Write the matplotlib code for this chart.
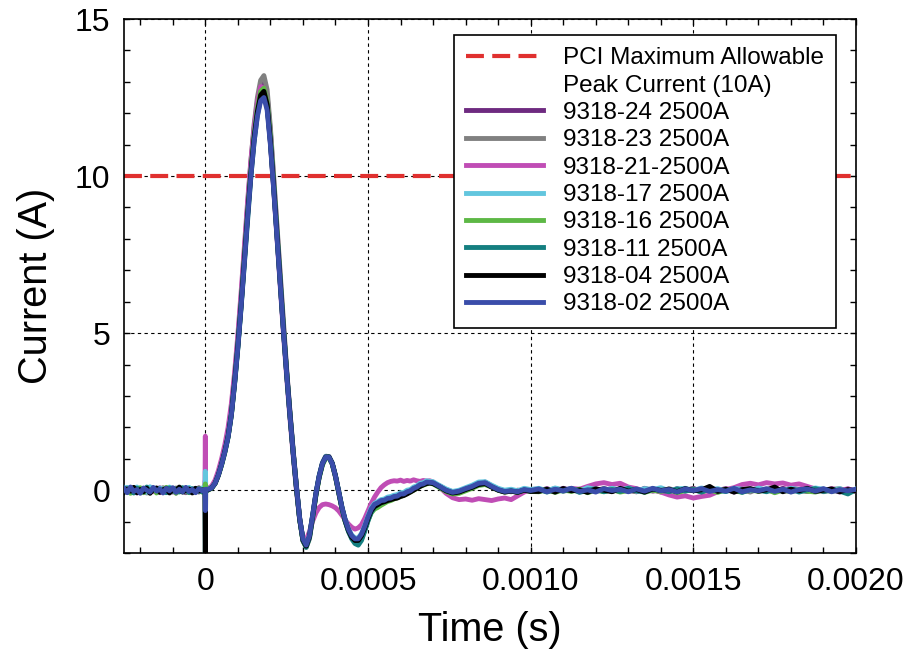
import numpy as np
import matplotlib
matplotlib.use('Agg')
import matplotlib.pyplot as plt
from matplotlib.lines import Line2D
from matplotlib.ticker import MultipleLocator, FixedLocator, FixedFormatter

plt.rcParams['font.family'] = ['Liberation Sans', 'DejaVu Sans']

# sampling grid (microseconds)
time_us = np.concatenate([np.arange(-250, 0, 10), [-1, 0, 1],
                          np.arange(10, 701, 10), np.arange(720, 1001, 20),
                          np.arange(1025, 2001, 25)])

limit_A = 10.0

cur_24 = [-0.03,0.07,-0.06,0.04,-0.09,0.05,0.01,-0.07,0.08,-0.02,0.06,-0.08,0.03,-0.04,0.09,-0.06,0.02,0.07,-0.03,-0.08,0.05,-0.02,0.06,-0.05,0.03,
          0.0,0.3,0.02,
          0.02,0.09,0.24,0.5,0.86,1.28,1.78,2.5,3.5,4.7,
          6.0,7.45,8.95,10.3,11.5,12.3,12.85,13.0,12.55,11.4,
          9.9,8.35,6.8,5.25,3.8,2.5,1.25,0.12,-0.9,-1.6,
          -1.78,-1.45,-0.8,-0.1,0.45,0.87,1.08,1.07,0.85,0.42,
          -0.08,-0.58,-0.98,-1.28,-1.5,-1.6,-1.58,-1.42,-1.18,-0.88,
          -0.62,-0.48,-0.42,-0.36,-0.3,-0.28,-0.22,-0.22,-0.16,-0.14,
          -0.1,-0.06,0.0,0.05,0.12,0.16,0.22,0.24,0.27,0.22,
          0.14,0.02,-0.05,-0.06,0.04,0.1,0.2,0.26,0.14,0.04,-0.02,-0.05,0.0,-0.03,0.02,
          -0.03,0.05,-0.04,0.06,-0.02,0.03,-0.06,0.04,-0.01,0.05,-0.04,0.02,-0.05,0.06,-0.03,0.01,-0.04,0.05,-0.02,0.06,
          -0.05,0.03,-0.01,0.05,-0.06,0.02,0.04,-0.03,0.01,-0.05,0.06,-0.02,0.03,-0.04,0.05,-0.01,0.02,-0.06,0.04,-0.03]

cur_23 = [0.04,-0.06,0.02,0.08,-0.05,-0.01,0.06,-0.09,0.03,0.05,-0.07,0.01,0.08,-0.04,-0.06,0.03,0.07,-0.02,0.04,-0.07,0.06,-0.03,0.01,-0.06,0.04,
          0.01,0.2,-0.02,
          0.03,0.1,0.25,0.52,0.88,1.3,1.8,2.55,3.55,4.75,
          6.1,7.55,9.05,10.45,11.65,12.5,13.05,13.2,12.75,11.55,
          10.0,8.4,6.85,5.3,3.85,2.5,1.28,0.15,-0.88,-1.62,
          -1.82,-1.55,-0.88,-0.15,0.42,0.84,1.05,1.06,0.84,0.44,
          -0.06,-0.56,-0.98,-1.3,-1.52,-1.65,-1.68,-1.55,-1.28,-0.95,
          -0.66,-0.5,-0.42,-0.35,-0.33,-0.27,-0.24,-0.2,-0.17,-0.13,
          -0.1,-0.07,-0.02,0.05,0.1,0.17,0.21,0.25,0.26,0.23,
          0.13,0.01,-0.06,-0.04,0.06,0.13,0.21,0.23,0.13,0.03,-0.03,-0.01,-0.04,0.03,0.0,
          0.02,-0.04,0.06,-0.03,0.01,-0.05,0.04,-0.02,0.06,-0.04,0.03,-0.01,-0.05,0.04,0.02,-0.06,0.05,-0.03,0.01,0.04,
          -0.05,0.06,-0.02,0.03,-0.04,0.01,-0.06,0.05,-0.02,0.04,-0.03,0.06,-0.01,-0.04,0.03,-0.05,0.02,0.05,-0.03,0.01]

cur_21 = [0.06,-0.04,0.09,-0.07,0.03,0.05,-0.08,0.02,0.07,-0.05,0.01,0.08,-0.06,0.04,-0.02,0.06,-0.09,0.05,0.0,0.07,-0.04,0.03,-0.06,0.08,0.02,
          0.05,1.72,0.1,
          0.06,0.14,0.32,0.62,1.0,1.45,2.0,2.75,3.75,4.95,
          6.3,7.75,9.2,10.5,11.55,12.35,12.85,12.8,12.25,11.05,
          9.6,8.05,6.5,5.0,3.6,2.3,1.1,0.0,-0.95,-1.5,
          -1.58,-1.32,-0.98,-0.72,-0.55,-0.46,-0.44,-0.46,-0.5,-0.56,
          -0.66,-0.8,-0.95,-1.08,-1.18,-1.24,-1.2,-1.1,-0.9,-0.66,
          -0.42,-0.22,-0.06,0.08,0.17,0.24,0.28,0.3,0.29,0.32,
          0.28,0.31,0.29,0.33,0.3,0.28,0.31,0.29,0.3,0.26,
          0.1,-0.1,-0.24,-0.3,-0.28,-0.32,-0.27,-0.3,-0.33,-0.28,-0.25,-0.3,-0.18,-0.06,0.02,
          0.04,-0.02,0.05,0.0,0.06,0.03,0.12,0.2,0.24,0.18,0.22,0.1,0.05,-0.03,0.02,-0.06,-0.15,-0.22,-0.18,-0.25,
          -0.2,-0.16,-0.05,0.02,0.08,0.18,0.22,0.17,0.24,0.2,0.23,0.16,0.2,0.12,0.04,-0.02,0.05,0.0,0.04,-0.03]

cur_17 = [-0.02,0.09,-0.05,0.06,0.1,-0.03,0.04,-0.07,0.11,0.02,-0.04,0.07,0.03,-0.06,0.1,0.01,-0.03,0.08,-0.06,0.04,0.09,-0.02,0.05,-0.04,0.07,
          0.05,0.6,0.08,
          0.04,0.09,0.23,0.49,0.84,1.25,1.74,2.45,3.45,4.62,
          5.95,7.35,8.82,10.15,11.28,12.1,12.6,12.7,12.28,11.15,
          9.72,8.2,6.68,5.15,3.74,2.42,1.2,0.08,-0.92,-1.56,
          -1.74,-1.44,-0.78,-0.08,0.48,0.88,1.08,1.07,0.87,0.47,
          -0.03,-0.53,-0.93,-1.23,-1.43,-1.52,-1.52,-1.38,-1.12,-0.82,
          -0.56,-0.42,-0.36,-0.3,-0.28,-0.22,-0.2,-0.16,-0.14,-0.08,
          -0.07,0.0,0.02,0.1,0.14,0.22,0.24,0.3,0.28,0.27,
          0.15,0.04,-0.04,0.0,0.08,0.16,0.26,0.27,0.16,0.06,0.0,0.03,-0.02,0.06,0.02,
          0.06,-0.02,0.07,0.01,0.05,-0.03,0.08,0.02,-0.01,0.06,0.0,0.07,-0.03,0.05,0.02,0.08,-0.02,0.04,0.06,-0.01,
          0.07,0.01,0.05,-0.04,0.06,0.03,-0.02,0.07,0.0,0.05,-0.03,0.06,0.02,-0.01,0.07,0.03,0.0,0.05,-0.08,0.04]

cur_16 = [-0.06,0.03,-0.1,0.05,-0.04,0.08,-0.08,0.02,-0.03,0.06,-0.09,0.0,-0.05,0.09,-0.07,0.03,-0.1,0.04,-0.02,0.06,-0.08,0.01,-0.04,0.07,-0.06,
          -0.02,0.2,-0.03,
          0.01,0.07,0.21,0.47,0.8,1.2,1.7,2.4,3.42,4.6,
          5.92,7.35,8.82,10.15,11.3,12.15,12.7,12.8,12.35,11.2,
          9.75,8.2,6.65,5.15,3.72,2.4,1.18,0.06,-0.95,-1.6,
          -1.8,-1.5,-0.86,-0.16,0.4,0.8,1.02,1.03,0.83,0.43,
          -0.08,-0.6,-1.0,-1.3,-1.5,-1.62,-1.64,-1.5,-1.25,-0.95,
          -0.72,-0.6,-0.55,-0.48,-0.42,-0.36,-0.33,-0.28,-0.24,-0.2,
          -0.16,-0.1,-0.06,0.0,0.06,0.12,0.16,0.2,0.22,0.2,
          0.08,-0.04,-0.12,-0.1,-0.02,0.06,0.15,0.18,0.1,0.0,-0.06,-0.03,-0.07,0.0,-0.04,
          -0.05,0.02,-0.07,0.01,-0.04,0.03,-0.08,0.0,-0.05,0.02,-0.06,-0.01,0.03,-0.07,0.0,-0.04,0.02,-0.08,-0.01,0.03,
          -0.05,0.01,-0.07,0.02,-0.03,-0.06,0.01,-0.04,0.03,-0.08,0.0,-0.05,0.02,-0.03,-0.06,0.01,-0.04,0.02,-0.07,0.0]

cur_11 = [0.08,-0.02,0.05,-0.09,0.06,0.01,-0.05,0.1,-0.07,0.03,0.06,-0.04,0.02,-0.08,0.07,-0.03,0.04,-0.06,0.08,0.0,-0.07,0.05,-0.02,0.03,-0.05,
          -0.02,-2.5,-0.05,
          0.02,0.07,0.21,0.47,0.81,1.21,1.69,2.38,3.38,4.52,
          5.82,7.22,8.66,9.98,11.1,11.95,12.45,12.6,12.2,11.08,
          9.66,8.15,6.63,5.12,3.72,2.42,1.21,0.1,-0.92,-1.6,
          -1.82,-1.52,-0.85,-0.14,0.42,0.83,1.04,1.05,0.85,0.45,
          -0.06,-0.58,-1.0,-1.32,-1.55,-1.7,-1.75,-1.6,-1.3,-0.98,
          -0.7,-0.54,-0.46,-0.4,-0.35,-0.3,-0.27,-0.22,-0.2,-0.15,
          -0.12,-0.08,-0.03,0.03,0.09,0.15,0.19,0.23,0.24,0.22,
          0.1,-0.01,-0.08,-0.05,0.03,0.1,0.19,0.22,0.11,0.01,-0.05,-0.02,-0.06,0.01,-0.03,
          0.03,-0.06,0.02,-0.03,0.05,-0.07,0.0,0.04,-0.05,0.02,-0.04,0.06,-0.02,-0.06,0.03,0.0,-0.05,0.04,-0.03,0.02,
          -0.06,0.05,-0.01,-0.04,0.03,-0.07,0.02,0.0,-0.05,0.04,-0.02,0.03,-0.06,0.01,0.05,-0.04,0.0,-0.03,-0.12,0.02]

cur_04 = [-0.07,0.04,-0.03,0.09,-0.08,0.02,-0.05,0.06,-0.1,0.03,0.07,-0.06,0.01,0.05,-0.09,0.04,-0.02,0.1,-0.06,0.0,0.04,-0.09,0.06,-0.03,0.01,
          0.0,-2.5,0.0,
          0.02,0.08,0.22,0.48,0.83,1.24,1.72,2.42,3.44,4.6,
          5.9,7.32,8.78,10.1,11.22,12.05,12.58,12.7,12.28,11.12,
          9.7,8.18,6.66,5.14,3.73,2.42,1.2,0.08,-0.92,-1.58,
          -1.78,-1.48,-0.82,-0.12,0.44,0.85,1.06,1.06,0.86,0.46,
          -0.05,-0.56,-0.97,-1.28,-1.5,-1.6,-1.6,-1.45,-1.2,-0.9,
          -0.65,-0.52,-0.46,-0.4,-0.37,-0.33,-0.3,-0.27,-0.25,-0.2,
          -0.17,-0.12,-0.06,0.0,0.06,0.12,0.17,0.21,0.23,0.21,
          0.11,-0.02,-0.09,-0.06,0.02,0.09,0.18,0.21,0.1,0.0,-0.06,-0.03,-0.07,0.0,-0.04,
          -0.04,0.03,-0.06,0.05,-0.02,0.01,-0.07,0.04,0.0,-0.05,0.06,-0.03,0.02,-0.06,0.04,-0.01,0.03,-0.05,0.05,-0.02,
          0.01,0.12,-0.04,0.03,-0.06,0.02,0.05,-0.03,0.01,0.1,-0.05,0.03,-0.02,0.06,-0.04,0.0,0.04,-0.05,0.02,-0.03]

cur_02 = [0.05,-0.08,0.10,-0.04,0.02,-0.10,0.07,0.00,-0.06,0.09,-0.03,0.04,-0.09,0.06,-0.02,0.08,-0.07,0.03,-0.05,0.09,-0.04,0.02,-0.08,0.05,-0.02,
          0.02,-0.65,0.03,
          0.03,0.08,0.22,0.48,0.82,1.22,1.7,2.4,3.4,4.55,
          5.85,7.25,8.7,10.0,11.1,11.9,12.4,12.5,12.1,11.0,
          9.6,8.1,6.6,5.1,3.7,2.4,1.2,0.1,-0.9,-1.55,
          -1.75,-1.45,-0.8,-0.1,0.45,0.85,1.05,1.05,0.85,0.45,
          -0.05,-0.55,-0.95,-1.25,-1.45,-1.55,-1.55,-1.4,-1.15,-0.85,
          -0.6,-0.45,-0.4,-0.33,-0.32,-0.26,-0.25,-0.2,-0.19,-0.12,
          -0.12,-0.05,-0.02,0.06,0.1,0.18,0.2,0.26,0.25,0.24,
          0.12,0.0,-0.07,-0.03,0.05,0.12,0.22,0.24,0.12,0.02,-0.04,-0.02,-0.05,0.02,-0.01,
          0.04,-0.05,0.03,-0.02,0.06,-0.04,0.01,-0.06,0.05,-0.01,0.03,-0.05,0.04,-0.03,0.06,-0.02,0.02,-0.06,0.04,-0.01,
          0.05,-0.04,0.02,-0.03,0.06,-0.05,0.01,-0.02,0.05,-0.04,0.03,-0.06,0.02,0.04,-0.03,0.05,-0.05,0.02,-0.02,0.03]

series_labels = ['9318-24 2500A', '9318-23 2500A', '9318-21-2500A', '9318-17 2500A',
                 '9318-16 2500A', '9318-11 2500A', '9318-04 2500A', '9318-02 2500A']
series_values = [cur_24, cur_23, cur_21, cur_17, cur_16, cur_11, cur_04, cur_02]
series_colors = ['#6E2A80', '#808080', '#C04DB5', '#62C6DE', '#5DB845', '#147F80', '#000000', '#3A4DAA']

xtick_vals = [0, 0.0005, 0.0010, 0.0015, 0.0020]
xtick_labels = ['0', '0.0005', '0.0010', '0.0015', '0.0020']
ytick_vals = [0, 5, 10, 15]
ytick_labels = ['0', '5', '10', '15']

time_s = time_us * 1e-6

fig = plt.figure(figsize=(9.07, 6.56), dpi=100)
ax = fig.add_axes([0.1367, 0.157, 0.8071, 0.814])

red = '#E0302F'
dash = (4.3, 2.0)
ax.axhline(limit_A, color=red, lw=3, dashes=dash, zorder=2)

handles = []
for vals, c in zip(series_values, series_colors):
    ln, = ax.plot(time_s, vals, color=c, lw=3.5, zorder=3, solid_joinstyle='round')
    handles.append(ln)

ax.set_xlim(-0.00025, 0.002)
ax.set_ylim(-2, 15)
ax.xaxis.set_major_locator(FixedLocator(xtick_vals))
ax.xaxis.set_major_formatter(FixedFormatter(xtick_labels))
ax.yaxis.set_major_locator(FixedLocator(ytick_vals))
ax.yaxis.set_major_formatter(FixedFormatter(ytick_labels))
ax.xaxis.set_minor_locator(MultipleLocator(0.0001))
ax.yaxis.set_minor_locator(MultipleLocator(1))
ax.tick_params(which='both', direction='in', top=True, right=True, length=4, width=1)
ax.tick_params(which='major', labelsize=23, pad=10)
ax.grid(which='major', color='k', ls=(0, (3, 3)), lw=0.8)
ax.set_axisbelow(True)
for s in ax.spines.values():
    s.set_linewidth(1.2)

ax.set_xlabel('Time (s)', fontsize=28.5, labelpad=10)
ax.set_ylabel('Current (A)', fontsize=28.5, labelpad=14)

leg_handles = [Line2D([], [], color=red, lw=3, dashes=dash), Line2D([], [], color='none')] + handles
leg_labels = ['PCI Maximum Allowable', 'Peak Current (10A)'] + series_labels
leg = ax.legend(leg_handles, leg_labels, loc='upper right', bbox_to_anchor=(0.9727, 0.970),
                borderaxespad=0, fontsize=17.5, handlelength=3.2, handletextpad=0.8,
                labelspacing=0.22, borderpad=0.5, frameon=True, fancybox=False,
                framealpha=1, edgecolor='k')
leg.get_frame().set_linewidth(1.2)

fig.savefig('out.png', dpi=100)
